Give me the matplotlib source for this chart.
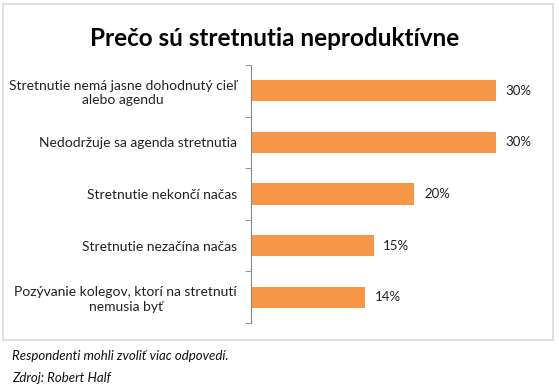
import matplotlib
matplotlib.use('Agg')
import matplotlib.pyplot as plt
from matplotlib.patches import Rectangle
import numpy as np

# data, top to bottom
categories = ['Stretnutie nemá jasne dohodnutý cieľ\nalebo agendu',
              'Nedodržuje sa agenda stretnutia',
              'Stretnutie nekončí načas',
              'Stretnutie nezačína načas',
              'Pozývanie kolegov, ktorí na stretnutí\nnemusia byť']
values = [30, 30, 20, 15, 14]
value_labels = ['30%', '30%', '20%', '15%', '14%']

title = 'Prečo sú stretnutia neproduktívne'
notes = ['Respondenti mohli zvoliť viac odpovedí.', 'Zdroj: Robert Half']

plt.rcParams['font.family'] = ['Lato', 'DejaVu Sans']

W, H = 559, 388
fig = plt.figure(figsize=(W / 100, H / 100), dpi=100)

# chart frame
fig.patches.append(Rectangle((3 / W, 1 - 340 / H), 550 / W, 336 / H,
                             transform=fig.transFigure, fill=False,
                             edgecolor='#D9D9D9', linewidth=1.2))

ax = fig.add_axes([251 / W, 1 - 323 / H, (537 - 251) / W, (323 - 65) / H])
y = np.arange(len(categories))
ax.barh(y, values, height=0.41, color='#F79646')
ax.set_ylim(len(categories) - 0.5, -0.5)
ax.set_xlim(0, 35)

for yi, v, lab in zip(y, values, value_labels):
    ax.annotate(lab, (v, yi), xytext=(7, 0), textcoords='offset points',
                va='center', ha='left', fontsize=9.5, color='#222222')

ax.set_yticks(y)
ax.set_yticklabels(categories, fontsize=10, color='#222222',
                   multialignment='center', linespacing=1.25)
ax.tick_params(axis='y', which='major', length=0, pad=10)
ax.set_yticks(np.arange(-0.5, len(categories)), minor=True)
ax.tick_params(axis='y', which='minor', length=4, color='#868686')
ax.set_xticks([])
for s in ['top', 'right', 'bottom']:
    ax.spines[s].set_visible(False)
ax.spines['left'].set_color('#868686')

fig.text(275 / W, 1 - 38 / H, title, ha='center', va='center',
         fontsize=17.5, fontweight='bold', color='black')

fig.text(12 / W, 1 - 356 / H, notes[0], ha='left', va='center',
         fontsize=9.5, style='italic', color='#111111')
fig.text(12 / W, 1 - 378 / H, notes[1], ha='left', va='center',
         fontsize=9.5, style='italic', color='#111111')

fig.savefig('out.png', dpi=100, facecolor='white')
